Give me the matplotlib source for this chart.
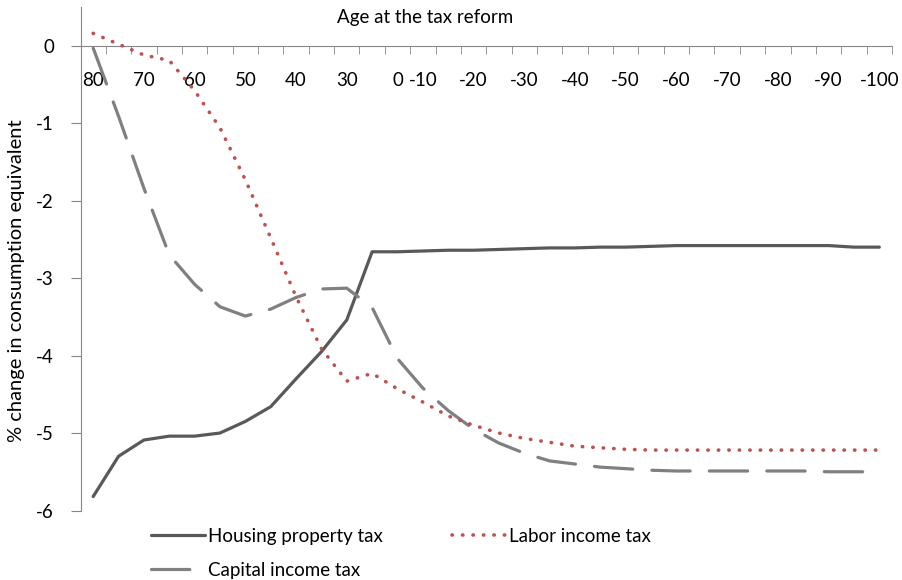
import numpy as np
import matplotlib
matplotlib.use("Agg")
import matplotlib.pyplot as plt

plt.rcParams['font.family'] = ['Lato', 'DejaVu Sans']

# category labels along the top axis (blank = unlabelled category)
age_labels = ["80", "", "70", "", "60", "", "50", "", "40", "", "30", "",
              "0", "-10", "", "-20", "", "-30", "", "-40", "", "-50", "",
              "-60", "", "-70", "", "-80", "", "-90", "", "-100"]

housing = [-5.82, -5.30, -5.09, -5.04, -5.04, -5.00, -4.85, -4.66, -4.30, -3.95,
           -3.54, -2.66, -2.66, -2.65, -2.64, -2.64, -2.63, -2.62, -2.61, -2.61,
           -2.60, -2.60, -2.59, -2.58, -2.58, -2.58, -2.58, -2.58, -2.58, -2.58,
           -2.60, -2.60]
labor = [0.16, 0.02, -0.12, -0.19, -0.58, -1.06, -1.73, -2.48, -3.24, -3.91,
         -4.33, -4.23, -4.43, -4.60, -4.78, -4.90, -5.00, -5.07, -5.12, -5.17,
         -5.19, -5.21, -5.22, -5.22, -5.22, -5.22, -5.22, -5.22, -5.22, -5.22,
         -5.22, -5.22]
capital = [-0.03, -0.91, -1.84, -2.70, -3.08, -3.37, -3.49, -3.40, -3.25, -3.14,
           -3.13, -3.38, -4.04, -4.42, -4.71, -4.95, -5.13, -5.26, -5.36, -5.40,
           -5.44, -5.46, -5.48, -5.49, -5.49, -5.49, -5.49, -5.49, -5.49, -5.50,
           -5.50, -5.50]

W, H = 903, 580
fig = plt.figure(figsize=(W/100, H/100), dpi=100)
ax = fig.add_axes([80.5/W, 1-510.5/H, 811.5/W, 503.5/H])

x = np.arange(len(age_labels))
axcol = '#868686'
fs = 13.5

ax.plot(x, housing, color='#595959', lw=2.3, solid_capstyle='round',
        solid_joinstyle='round', label='Housing property tax', zorder=3)
ax.plot(x, capital, color='#808080', lw=2.3, dashes=(12, 6),
        dash_capstyle='round', label='Capital income tax', zorder=3)
ax.plot(x, labor, color='#C0504D', lw=2.6, dashes=(0.1, 2.8),
        dash_capstyle='round', label='Labor income tax', zorder=4)

ax.set_xlim(-0.5, len(age_labels)-0.5)
ax.set_ylim(-6, 0.5)

for s in ['top', 'right']:
    ax.spines[s].set_visible(False)
ax.spines['bottom'].set_position(('data', 0))
ax.spines['bottom'].set_color(axcol)
ax.spines['left'].set_color(axcol)

lab_idx = [i for i, t in enumerate(age_labels) if t]
ax.set_xticks(lab_idx)
ax.set_xticklabels([age_labels[i] for i in lab_idx])
ax.set_xticks(np.arange(0.5, len(age_labels)), minor=True)
ax.tick_params(axis='x', which='major', length=0, pad=19, labelsize=fs)
ax.tick_params(axis='x', which='minor', length=6, color=axcol, direction='out')

ax.set_yticks(np.arange(-6, 1, 1))
ax.set_yticklabels([str(v) for v in range(-6, 1)])
ax.tick_params(axis='y', length=7, color=axcol, pad=12, labelsize=fs)

fig.text(425/W, 1-18/H, 'Age at the tax reform', ha='center', va='center', fontsize=fs)
fig.text(17/W, 1-281/H, '% change in consumption equivalent', rotation=90,
         ha='center', va='center', fontsize=14.5)

h, l = ax.get_legend_handles_labels()
fig.legend(h, l, ncol=2, loc='upper left', bbox_to_anchor=(151/W, 1-528/H),
           frameon=False, fontsize=fs, handlelength=2.9, handletextpad=0.15,
           columnspacing=3.65, labelspacing=0.9, borderpad=0, borderaxespad=0)

fig.savefig('out.png', dpi=100)
